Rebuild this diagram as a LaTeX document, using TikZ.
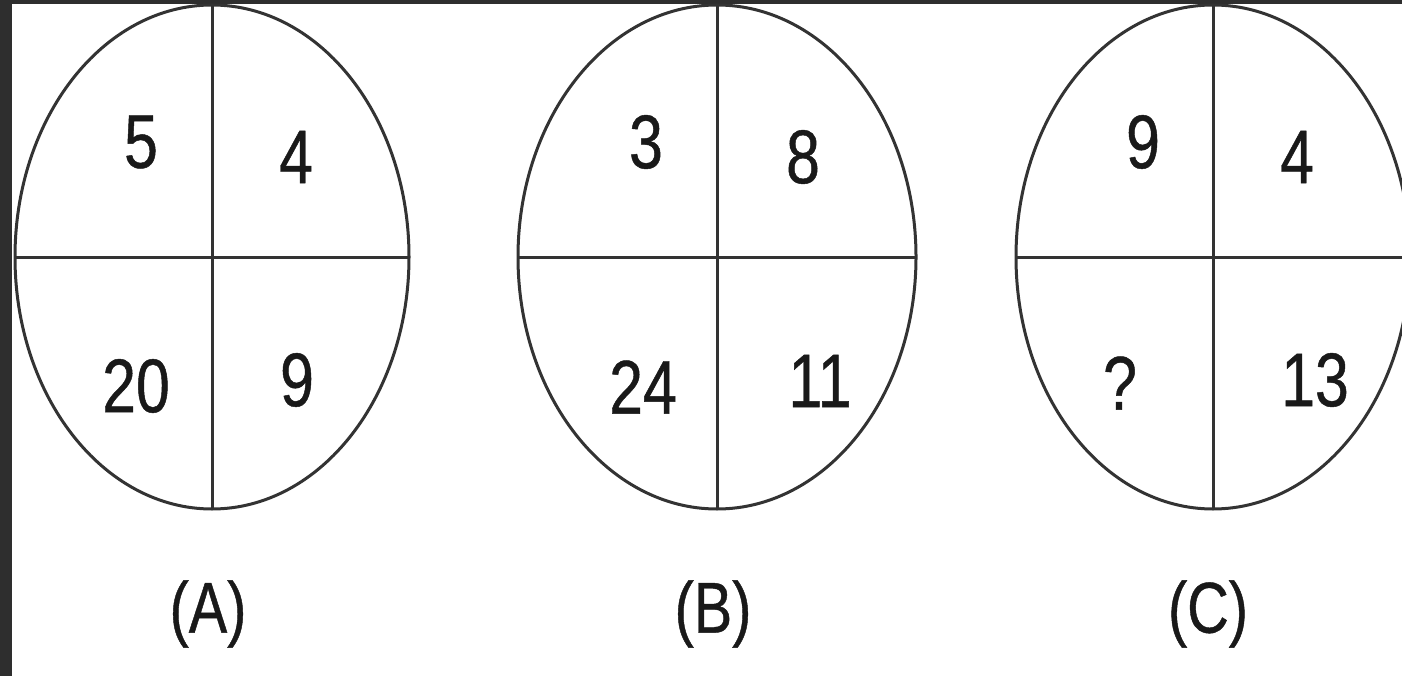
\documentclass[tikz,border=0pt]{standalone}
\usepackage{fontspec}
\setmainfont{Liberation Sans}
\newfontfamily\narrowfont[FakeStretch=0.8,FakeBold=0.6]{Liberation Sans}
\begin{document}
\begin{tikzpicture}[x=0.5pt,y=0.5pt,
  ln/.style={draw=black!80,line width=1.5pt},
  num/.style={font=\narrowfont\fontsize{38}{40}\selectfont,inner sep=0pt,text=black!90},
  lab/.style={font=\narrowfont\fontsize{36}{38}\selectfont,inner sep=0pt,text=black!90}]
\useasboundingbox (0,0) rectangle (1402,676);
\fill[white] (0,0) rectangle (1402,676);
\fill[black!82] (0,0) rectangle (12,676);
\fill[black!82] (0,672) rectangle (1402,676);
\begin{scope}
\clip (12,0) rectangle (1402,672);
% circle A
\coordinate (ca) at (212,419);
\draw[ln] (ca) ellipse [x radius=197, y radius=252];
\draw[ln] (212,671) -- (212,166);
\draw[ln] (15,419) -- (409,419);
% circle B
\coordinate (cb) at (717,419);
\draw[ln] (cb) ellipse [x radius=199, y radius=252];
\draw[ln] (717,671) -- (717,166);
\draw[ln] (518,419) -- (916,419);
% circle C
\coordinate (cc) at (1213,419);
\draw[ln] (cc) ellipse [x radius=197, y radius=252];
\draw[ln] (1213,671) -- (1213,166);
\draw[ln] (1016,419) -- (1402,419);
\end{scope}
\node[num] (a1) at (141,534) {5};
\node[num] (a2) at (296,519) {4};
\node[num] (a3) at (136,290) {20};
\node[num] (a4) at (297,296) {9};
\node[num] (b1) at (646,534) {3};
\node[num] (b2) at (803,519) {8};
\node[num] (b3) at (643,289) {24};
\node[num] (b4) at (820,295) {11};
\node[num] (c1) at (1143,534) {9};
\node[num] (c2) at (1297,519) {4};
\node[num] (c3) at (1120,293) {?};
\node[num] (c4) at (1315,296) {13};
\node[lab] (la) at (208,62) {(A)};
\node[lab] (lb) at (713,62) {(B)};
\node[lab] (lc) at (1208,62) {(C)};
\end{tikzpicture}
\end{document}
